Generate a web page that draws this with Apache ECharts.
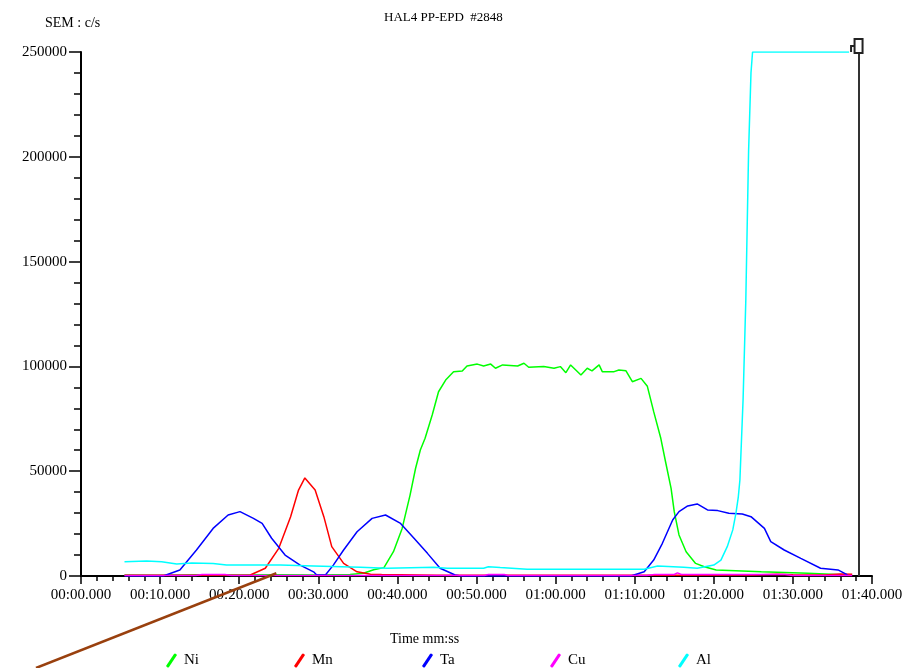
<!DOCTYPE html>
<html>
<head>
<meta charset="utf-8">
<script src="https://cdn.jsdelivr.net/npm/echarts@6/dist/echarts.min.js"></script>
<style>
  html, body { margin: 0; padding: 0; background: #fff; }
  #main { width: 910px; height: 668px; }
</style>
</head>
<body>
<div id="main"></div>
<script>
// series names (legend order)
const names = ['Ni', 'Mn', 'Ta', 'Cu', 'Al']
const colors = ['#00ff00', '#ff0000', '#0000ff', '#ff00ff', '#00ffff']

// [time s, counts/s]
const niData = [
  [5.5, 500], [10, 400], [15, 600], [20, 500], [25, 600], [30, 500], [34, 700], [35.7, 1300],
  [37, 3000], [38.3, 4000], [39.5, 11600], [40.6, 22700], [41.6, 38600], [42.3, 51400],
  [42.9, 60100], [43.5, 65700], [44.4, 76800], [45.2, 87900], [46.1, 93500], [47.1, 97500],
  [48.2, 97800], [48.8, 100200], [50.1, 101100], [50.9, 100200], [51.8, 101100], [52.4, 99100],
  [53.3, 100700], [55.2, 100200], [56, 101500], [56.6, 99600], [58.5, 99900], [59.8, 99100],
  [60.6, 99900], [61.3, 97000], [61.9, 100700], [63.2, 95900], [64, 99100], [64.6, 97900],
  [65.5, 100700], [65.9, 97500], [67.4, 97500], [68, 98300], [68.9, 97900], [69.7, 92700],
  [70.8, 94300], [71.6, 90500], [72.4, 78400], [73.3, 65700], [73.9, 54500], [74.6, 41800],
  [75, 30700], [75.6, 19600], [76.5, 11600], [77.7, 6000], [78.8, 4400], [80.3, 2900],
  [86, 2000], [91.9, 1300], [96.9, 500]
]
const mnData = [
  [5.5, 300], [15, 300], [21.4, 500], [23.3, 3700], [25, 13200], [26.5, 28300], [27.5, 41000],
  [28.3, 46800], [29.6, 41000], [30.7, 28300], [31.7, 14000], [33.2, 6000], [34.9, 2000],
  [36.6, 800], [38, 700], [45, 300], [60, 300], [75, 400], [85, 500], [88, 800], [90, 600],
  [94, 500], [96, 900], [97.5, 800]
]
const taData = [
  [5.5, 0], [10.4, 0], [12.5, 2900], [14.6, 12400], [16.7, 22700], [18.6, 29100], [20.1, 30700],
  [21.8, 27500], [22.9, 25100], [24.1, 18000], [25.8, 10000], [27.7, 5200], [29.4, 2000],
  [29.8, 500], [30.9, 500], [31.9, 5200], [33.2, 12400], [34.9, 21100], [36.8, 27500],
  [38.5, 29100], [40.4, 25100], [42.1, 18000], [43.8, 10800], [45.4, 3700], [47.3, 500],
  [48, 0], [69.5, 0], [71.2, 2000], [72.4, 7600], [73.5, 15600], [74.8, 26700], [75.6, 30700],
  [76.7, 33400], [77.9, 34400], [79.2, 31500], [80.5, 31200], [81.9, 29900], [83.6, 29600],
  [84.7, 28300], [86.4, 22700], [87.2, 16400], [88.9, 12400], [91, 8400], [93.5, 3700],
  [95.7, 2900], [96.9, 500]
]
const cuData = [
  [5.5, 200], [14.5, 200], [15.3, 700], [18.2, 700], [19, 200], [51, 200], [51.5, 700],
  [53.5, 700], [54, 200], [71.5, 200], [72.5, 700], [75, 700], [75.4, 1500], [75.9, 700],
  [89, 700], [90, 200], [97.5, 200]
]
const alData = [
  [5.5, 6800], [8.3, 7200], [10.2, 6800], [12.1, 5700], [14, 6200], [16.7, 6000], [18.4, 5200],
  [25.2, 5200], [29.4, 4800], [35.3, 4200], [38.7, 3700], [44.6, 4200], [46.3, 3700],
  [50.9, 3700], [51.5, 4400], [53, 4000], [56.4, 3200], [71.2, 3200], [72.9, 4800],
  [76.2, 4200], [77.9, 3700], [80, 5200], [80.9, 7600], [81.7, 14000], [82.4, 22000],
  [82.8, 30000], [83.1, 37800], [83.3, 45800], [83.7, 84000], [84.05, 132000], [84.4, 203000],
  [84.7, 240000], [84.9, 250000], [97.1, 250000]
]
const seriesData = [niData, mnData, taData, cuData, alData]

const cursorTime = 98.3   // vertical cursor on the time axis
const arrowTip = [24.7, 1300]

const pad = n => (n < 10 ? '0' : '') + n
const fmtTime = v => pad(Math.floor(v / 60)) + ':' + pad(Math.round(v % 60)) + '.000'
const serif = 'Liberation Serif'

const myChart = echarts.init(document.getElementById('main'))

myChart.setOption({
  animation: false,
  textStyle: { fontFamily: serif, color: '#000' },
  title: [
    { text: 'HAL4 PP-EPD  #2848', left: 379, top: 6, textStyle: { fontSize: 13, fontWeight: 'normal', fontFamily: serif, color: '#000' } },
    { text: 'SEM : c/s', left: 40, top: 11, textStyle: { fontSize: 14, fontWeight: 'normal', fontFamily: serif, color: '#000' } },
    { text: 'Time mm:ss', left: 385, top: 627, textStyle: { fontSize: 14, fontWeight: 'normal', fontFamily: serif, color: '#000' } }
  ],
  // one legend per element so they sit on an even 128 px pitch
  legend: names.map((n, i) => ({
    left: 161 + 128 * i,
    top: 648,
    itemWidth: 11,
    itemHeight: 15,
    itemGap: 8,
    data: [{
      name: n,
      icon: 'path://M0,13 L8,1 Q9,0 10,1 L11,2 L3,14 Q2,15 1,14 Z',
      itemStyle: { color: colors[i] }
    }],
    textStyle: { fontSize: 15, fontFamily: serif, color: '#000', padding: [0, 0, 0, 2] }
  })),
  grid: { left: 81, right: 38, top: 52, bottom: 92, containLabel: false },
  xAxis: {
    type: 'value',
    min: 0,
    max: 100,
    interval: 10,
    axisLine: { lineStyle: { color: '#000', width: 2 } },
    axisTick: { length: 8, lineStyle: { color: '#000', width: 1.5 } },
    minorTick: { show: true, splitNumber: 5, length: 5, lineStyle: { color: '#000', width: 1.5 } },
    splitLine: { show: false },
    axisLabel: { formatter: fmtTime, fontSize: 15, margin: 12, color: '#000', fontFamily: serif }
  },
  yAxis: {
    type: 'value',
    min: 0,
    max: 250000,
    interval: 50000,
    axisLine: { show: true, lineStyle: { color: '#000', width: 2 } },
    axisTick: { length: 12, lineStyle: { color: '#000', width: 1.5 } },
    minorTick: { show: true, splitNumber: 5, length: 7, lineStyle: { color: '#000', width: 1.5 } },
    splitLine: { show: false },
    axisLabel: { formatter: v => String(v), fontSize: 15, margin: 14, color: '#000', fontFamily: serif }
  },
  series: names.map((n, i) => ({
    name: n,
    type: 'line',
    data: seriesData[i],
    showSymbol: false,
    symbol: 'none',
    color: colors[i],
    lineStyle: { width: 1.5, color: colors[i] },
    z: 2 + i,
    markLine: n === 'Al' ? {
      silent: true,
      symbol: 'none',
      label: { show: false },
      lineStyle: { color: '#333', width: 2, type: 'solid' },
      data: [{ xAxis: cursorTime }]
    } : undefined
  }))
})

// cursor handle and the brown pointer, placed from axis values
const cursorTop = myChart.convertToPixel({ gridIndex: 0 }, [cursorTime, 250000])
const lastAl = myChart.convertToPixel({ gridIndex: 0 }, alData[alData.length - 1])
const tip = myChart.convertToPixel({ gridIndex: 0 }, arrowTip)
myChart.setOption({
  graphic: [
    {
      type: 'polyline',
      shape: { points: [[lastAl[0] + 2, cursorTop[1]], [lastAl[0] + 2, cursorTop[1] - 6], [cursorTop[0] - 4, cursorTop[1] - 6]] },
      style: { stroke: '#222', lineWidth: 2, fill: null },
      z: 100
    },
    {
      type: 'rect',
      shape: { x: cursorTop[0] - 4, y: cursorTop[1] - 13, width: 8, height: 14 },
      style: { stroke: '#222', lineWidth: 2, fill: '#fff' },
      z: 100
    },
    {
      type: 'line',
      shape: { x1: 36, y1: 668, x2: tip[0], y2: tip[1] },
      style: { stroke: '#99400e', lineWidth: 2.5 },
      z: 100
    }
  ]
})
</script>
</body>
</html>
